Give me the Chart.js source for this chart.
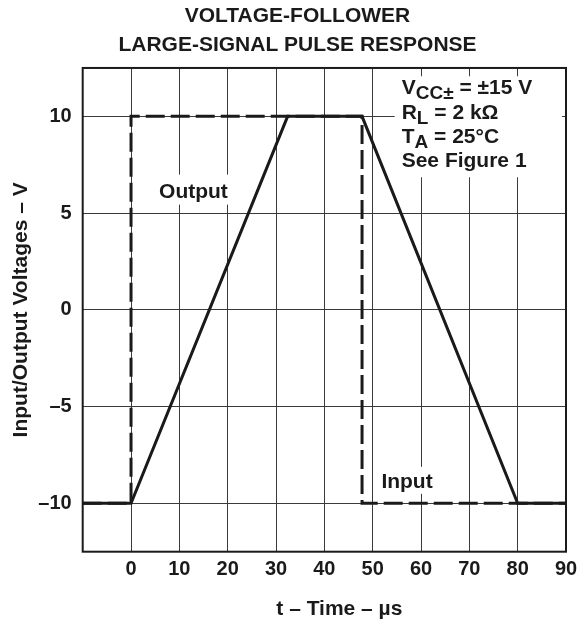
<!DOCTYPE html>
<html>
<head>
<meta charset="utf-8">
<title>Voltage-Follower Large-Signal Pulse Response</title>
<script src="https://cdn.jsdelivr.net/npm/chart.js@4.4.1/dist/chart.umd.min.js"></script>
<style>
  html, body { margin: 0; padding: 0; background: #fff; }
  #wrap { width: 587px; height: 624px; }
</style>
</head>
<body>
<div id="wrap"><canvas id="pulseChart" width="587" height="624"></canvas></div>
<script>
// values (time in µs, voltage in V)
const inputTime = [-10, 0, 0, 47.8, 47.8, 90];
const inputVolts = [-10, -10, 10, 10, -10, -10];
const outputTime = [-10, 0, 32.4, 47.8, 80, 90];
const outputVolts = [-10, -10, 10, 10, -10, -10];

const xTicks = [-10, 0, 10, 20, 30, 40, 50, 60, 70, 80, 90];
const yTicks = [-10, -5, 0, 5, 10];

const titleLines = ['VOLTAGE-FOLLOWER', 'LARGE-SIGNAL PULSE RESPONSE'];
const xTitle = 't – Time – µs';
const yTitle = 'Input/Output Voltages – V';
// [main text, subscript, rest]
const conditions = [
  ['V', 'CC±', ' = ±15 V'],
  ['R', 'L', ' = 2 kΩ'],
  ['T', 'A', ' = 25°C'],
  ['See Figure 1', '', '']
];

const FONT = '"Liberation Sans", Arial, Helvetica, sans-serif';
const INK = '#1a1a1a';

const toPoints = (xs, ys) => xs.map((t, i) => ({ x: t, y: ys[i] }));

// white patches under labels, frame, labels, x title
const overlay = {
  id: 'overlay',
  beforeDatasetsDraw(chart) {
    const { ctx, chartArea: area, scales: { x, y } } = chart;
    ctx.save();
    ctx.fillStyle = '#fff';
    const cx = x.getPixelForValue(56);
    const cy = y.getPixelForValue(11.14);
    ctx.fillRect(cx - 7, cy - 18, area.right - 4 - (cx - 7), 101);

    ctx.font = `bold 21px ${FONT}`;
    const ox = x.getPixelForValue(5.8), oy = y.getPixelForValue(5.8);
    ctx.fillRect(ox - 4, oy - 23, ctx.measureText('Output').width + 8, 30);
    const ix = x.getPixelForValue(51.8), iy = y.getPixelForValue(-9.2);
    ctx.fillRect(ix - 4, iy - 21, ctx.measureText('Input').width + 8, 27);
    ctx.restore();
  },
  afterDatasetsDraw(chart) {
    const { ctx, chartArea: area, scales: { x, y } } = chart;
    ctx.save();
    ctx.strokeStyle = INK;
    ctx.lineWidth = 2;
    ctx.strokeRect(area.left, area.top, area.right - area.left, area.bottom - area.top);

    ctx.fillStyle = INK;
    ctx.textBaseline = 'alphabetic';
    ctx.textAlign = 'left';
    ctx.font = `bold 21px ${FONT}`;
    ctx.fillText('Output', x.getPixelForValue(5.8), y.getPixelForValue(5.8));
    ctx.fillText('Input', x.getPixelForValue(51.8), y.getPixelForValue(-9.2));

    const cx = x.getPixelForValue(56);
    let ly = y.getPixelForValue(11.14);
    conditions.forEach(([main, sub, rest]) => {
      let px = cx;
      ctx.font = `bold 21px ${FONT}`;
      ctx.fillText(main, px, ly);
      px += ctx.measureText(main).width;
      if (sub) {
        ctx.font = `bold 19px ${FONT}`;
        ctx.fillText(sub, px, ly + 5);
        px += ctx.measureText(sub).width;
        ctx.font = `bold 21px ${FONT}`;
      }
      if (rest) ctx.fillText(rest, px, ly);
      ly += 24.4;
    });

    ctx.textAlign = 'center';
    ctx.fillText(xTitle, (area.left + area.right) / 2 + 15, 615);
    ctx.restore();
  }
};

const ctx = document.getElementById('pulseChart').getContext('2d');
const pulseChart = new Chart(ctx, {
  type: 'line',
  data: {
    datasets: [
      {
        label: 'Input',
        data: toPoints(inputTime, inputVolts),
        borderColor: INK,
        borderWidth: 3,
        borderDash: [19, 6],
        pointRadius: 0,
        tension: 0,
        fill: false
      },
      {
        label: 'Output',
        data: toPoints(outputTime, outputVolts),
        borderColor: INK,
        borderWidth: 3,
        pointRadius: 0,
        tension: 0,
        fill: false
      }
    ]
  },
  options: {
    responsive: false,
    animation: false,
    devicePixelRatio: 1,
    layout: { padding: { left: 8, right: 0, top: 0, bottom: 0 } },
    plugins: {
      legend: { display: false },
      tooltip: { enabled: false },
      title: {
        display: true,
        text: titleLines,
        color: INK,
        font: { family: FONT, size: 21, weight: 'bold', lineHeight: 1.38 },
        padding: { top: 2, bottom: 8 }
      }
    },
    scales: {
      x: {
        type: 'linear',
        min: -10,
        max: 90,
        afterBuildTicks: s => { s.ticks = xTicks.map(v => ({ value: v })); },
        afterFit: s => { s.height = 72.3; s.paddingRight = 21; },
        grid: { color: '#3a3a3a', lineWidth: 1, drawTicks: false },
        border: { display: false },
        ticks: {
          padding: 6,
          color: INK,
          maxRotation: 0,
          autoSkip: false,
          font: { family: FONT, size: 20, weight: 'bold' },
          callback: v => (v === -10 ? '' : v)
        }
      },
      y: {
        type: 'linear',
        min: -12.5,
        max: 12.5,
        afterBuildTicks: s => { s.ticks = yTicks.map(v => ({ value: v })); },
        afterFit: s => { s.width = 74.7; },
        grid: { color: '#3a3a3a', lineWidth: 1, drawTicks: false },
        border: { display: false },
        ticks: {
          padding: 11,
          color: INK,
          font: { family: FONT, size: 20, weight: 'bold' },
          callback: v => (v < 0 ? '–' + Math.abs(v) : v)
        },
        title: {
          display: true,
          text: yTitle,
          color: INK,
          font: { family: FONT, size: 21, weight: 'bold' },
          padding: { top: 1, bottom: 0 }
        }
      }
    }
  },
  plugins: [overlay]
});
</script>
</body>
</html>
